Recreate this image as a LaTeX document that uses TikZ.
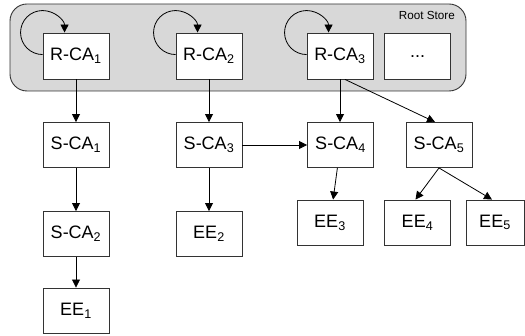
\documentclass[tikz,border=0pt]{standalone}
\usepackage{fontspec}
\setmainfont{Liberation Sans}
\usetikzlibrary{arrows.meta,calc}
\definecolor{storefill}{HTML}{D8D8D8}
\definecolor{edgecol}{HTML}{333333}
\begin{document}
\begin{tikzpicture}[x=1pt,y=1pt,
  box/.style={draw=edgecol,line width=0.9pt,fill=white,minimum width=66pt,minimum height=46pt,inner sep=0pt,
    font=\fontsize{18}{20}\selectfont},
  arr/.style={draw=black,line width=0.8pt,-{Triangle[width=8pt,length=8pt]}},
  store/.style={draw=edgecol,line width=0.9pt,fill=storefill,rounded corners=17pt}]
\useasboundingbox (0,0) rectangle (525,-336);
% root store
\node[store,minimum width=456pt,minimum height=87pt,inner sep=0pt] (store) at (238,-47.5) {};
\node[anchor=north east,inner sep=0pt,font=\fontsize{11.7}{13}\selectfont] (storelbl) at (455,-11.5) {Root Store};
% root CAs
\node[box] (r1) at (76,-56) {R-CA\textsubscript{1}};
\node[box] (r2) at (209,-56) {R-CA\textsubscript{2}};
\node[box] (r3) at (340,-56) {R-CA\textsubscript{3}};
\node[box] (dots) at (417.5,-56.5) {...};
% sub CAs
\node[box,minimum height=45pt] (s1) at (76,-145) {S-CA\textsubscript{1}};
\node[box,minimum height=45pt] (s3) at (209,-145) {S-CA\textsubscript{3}};
\node[box,minimum height=45pt] (s4) at (340.5,-145) {S-CA\textsubscript{4}};
\node[box,minimum height=45pt] (s5) at (439,-145) {S-CA\textsubscript{5}};
\node[box,minimum height=45pt] (s2) at (76,-234) {S-CA\textsubscript{2}};
% end entities
\node[box,minimum height=45pt] (ee1) at (76,-310.5) {EE\textsubscript{1}};
\node[box,minimum height=45pt] (ee2) at (209,-234) {EE\textsubscript{2}};
\node[box,minimum height=45pt] (ee3) at (330,-222.5) {EE\textsubscript{3}};
\node[box,minimum height=45pt] (ee4) at (417.5,-222.5) {EE\textsubscript{4}};
\node[box,minimum height=45pt,minimum width=58pt] (ee5) at (495,-222.5) {EE\textsubscript{5}};
% self loops
\foreach \n in {r1,r2,r3}{
  \draw[arr] ($(\n.north west)+(0,-22)$) arc[start angle=-90,end angle=-360,radius=22];
}
% edges
\draw[arr] (r1) -- (s1);
\draw[arr] (s1) -- (s2);
\draw[arr] (s2) -- (ee1);
\draw[arr] (r2) -- (s3);
\draw[arr] (s3) -- (ee2);
\draw[arr] (s3) -- (s4);
\draw[arr] (r3.south) -- (s4.north -| r3.south);
\draw[arr] ($(r3.south)+(5,0)$) -- ($(s5.north)+(-4,0)$);
\draw[arr] (s4) -- (ee3);
\draw[arr] (s5.south) -- ($(ee4.north)+(-2,0)$);
\draw[arr] (s5.south) -- ($(ee5.north)+(-3,0)$);
\end{tikzpicture}
\end{document}
